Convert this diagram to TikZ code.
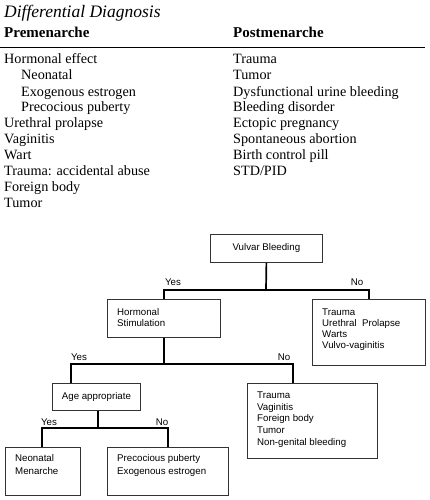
\documentclass[tikz,border=0pt]{standalone}
\usepackage{fontspec}
\setmainfont{Liberation Serif}
\newfontfamily\arialf{Liberation Sans}
\begin{document}
\begin{tikzpicture}[x=1pt,y=-1pt,
  ttl/.style={anchor=base west, inner sep=0pt, font=\itshape\fontsize{17.5}{20}\selectfont},
  hdr/.style={anchor=base west, inner sep=0pt, font=\bfseries\fontsize{15}{18}\selectfont},
  tab/.style={anchor=base west, inner sep=0pt, font=\fontsize{14.2}{16}\selectfont},
  box/.style={draw=black!80, line width=0.8pt, rectangle, inner sep=0pt, anchor=north west, font=\arialf\fontsize{9.7}{11.5}\selectfont},
  ftxt/.style={anchor=base west, inner sep=0pt, font=\arialf\fontsize{9.7}{11.5}\selectfont},
  lbl/.style={inner sep=0pt, font=\arialf\fontsize{9.7}{11.5}\selectfont},
  conn/.style={line width=1.7pt, black}]
\useasboundingbox (0,0) rectangle (429,500);
% ---- table ----
\node[ttl] (title) at (4,18) {Differential Diagnosis};
\node[hdr] (pre) at (4,38) {Premenarche};
\node[hdr] (post) at (233,38) {Postmenarche};
\draw[line width=0.9pt] (0,47) -- (425,47);
\node[tab] (l1) at (4,64) {Hormonal effect};
\node[tab] (l2) at (21,80) {Neonatal};
\node[tab] (l3) at (21,96) {Exogenous estrogen};
\node[tab] (l4) at (21,112) {Precocious puberty};
\node[tab] (l5) at (4,128) {Urethral prolapse};
\node[tab] (l6) at (4,143.5) {Vaginitis};
\node[tab] (l7) at (4,159) {Wart};
\node[tab] (l8) at (4,175) {Trauma: accidental abuse};
\node[tab] (l9) at (4,191) {Foreign body};
\node[tab] (l10) at (4,207) {Tumor};
\node[tab] (r1) at (233,64) {Trauma};
\node[tab] (r2) at (233,80) {Tumor};
\node[tab] (r3) at (233,96) {Dysfunctional urine bleeding};
\node[tab] (r4) at (233,112) {Bleeding disorder};
\node[tab] (r5) at (233,128) {Ectopic pregnancy};
\node[tab] (r6) at (233,143.5) {Spontaneous abortion};
\node[tab] (r7) at (233,159) {Birth control pill};
\node[tab] (r8) at (233,175) {STD/PID};
% ---- flowchart boxes ----
\node[box, minimum width=112pt, minimum height=28pt] (vb) at (210,234) {Vulvar Bleeding};
\node[box, minimum width=113pt, minimum height=38pt] (hs) at (107,299) {};
\node[ftxt] (hs1) at (117,315) {Hormonal};
\node[ftxt] (hs2) at (117,326.5) {Stimulation};
\node[box, minimum width=113pt, minimum height=66pt] (rb) at (312,299) {};
\node[ftxt] (rb1) at (322,315.5) {Trauma};
\node[ftxt] (rb2) at (322,326.5) {Urethral\ \ Prolapse};
\node[ftxt] (rb3) at (322,337.5) {Warts};
\node[ftxt] (rb4) at (322,348.5) {Vulvo-vaginitis};
\node[box, minimum width=88pt, minimum height=27pt] (age) at (52,383) {Age appropriate};
\node[box, minimum width=130pt, minimum height=75pt] (nh) at (247,383) {};
\node[ftxt] (nh1) at (257,398.5) {Trauma};
\node[ftxt] (nh2) at (257,410.2) {Vaginitis};
\node[ftxt] (nh3) at (257,421.9) {Foreign body};
\node[ftxt] (nh4) at (257,433.6) {Tumor};
\node[ftxt] (nh5) at (257,445.3) {Non-genital bleeding};
\node[box, minimum width=75pt, minimum height=48pt] (neo) at (5,447) {};
\node[ftxt] (neo1) at (15,461.5) {Neonatal};
\node[ftxt] (neo2) at (15,474) {Menarche};
\node[box, minimum width=121pt, minimum height=48pt] (pp) at (107,447) {};
\node[ftxt] (pp1) at (117,461.5) {Precocious puberty};
\node[ftxt] (pp2) at (117,474) {Exogenous estrogen};
% ---- connectors ----
\coordinate (j1) at (266,290);
\coordinate (j1l) at (164,290);
\coordinate (j1r) at (369,290);
\draw[conn] (vb.south) -- (j1);
\draw[conn] (j1l |- hs.north) -- (j1l) -- (j1r) -- (j1r |- rb.north);
\coordinate (j2) at (164,364);
\coordinate (j2l) at (71,364);
\coordinate (j2r) at (293,364);
\draw[conn] (hs.south) -- (hs.south |- j2);
\draw[conn] (j2l |- age.north) -- (j2l) -- (j2r) -- (j2r |- nh.north);
\coordinate (j3) at (98,428);
\coordinate (j3l) at (42,428);
\coordinate (j3r) at (168,428);
\draw[conn] (j3 |- age.south) -- (j3);
\draw[conn] (j3l |- neo.north) -- (j3l) -- (j3r) -- (j3r |- pp.north);
% ---- labels ----
\node[lbl] (y1) at (173,282) {Yes};
\node[lbl] (n1) at (357,282) {No};
\node[lbl] (y2) at (79,357) {Yes};
\node[lbl] (n2) at (284,357) {No};
\node[lbl] (y3) at (49,422) {Yes};
\node[lbl] (n3) at (162,422) {No};
\end{tikzpicture}
\end{document}
